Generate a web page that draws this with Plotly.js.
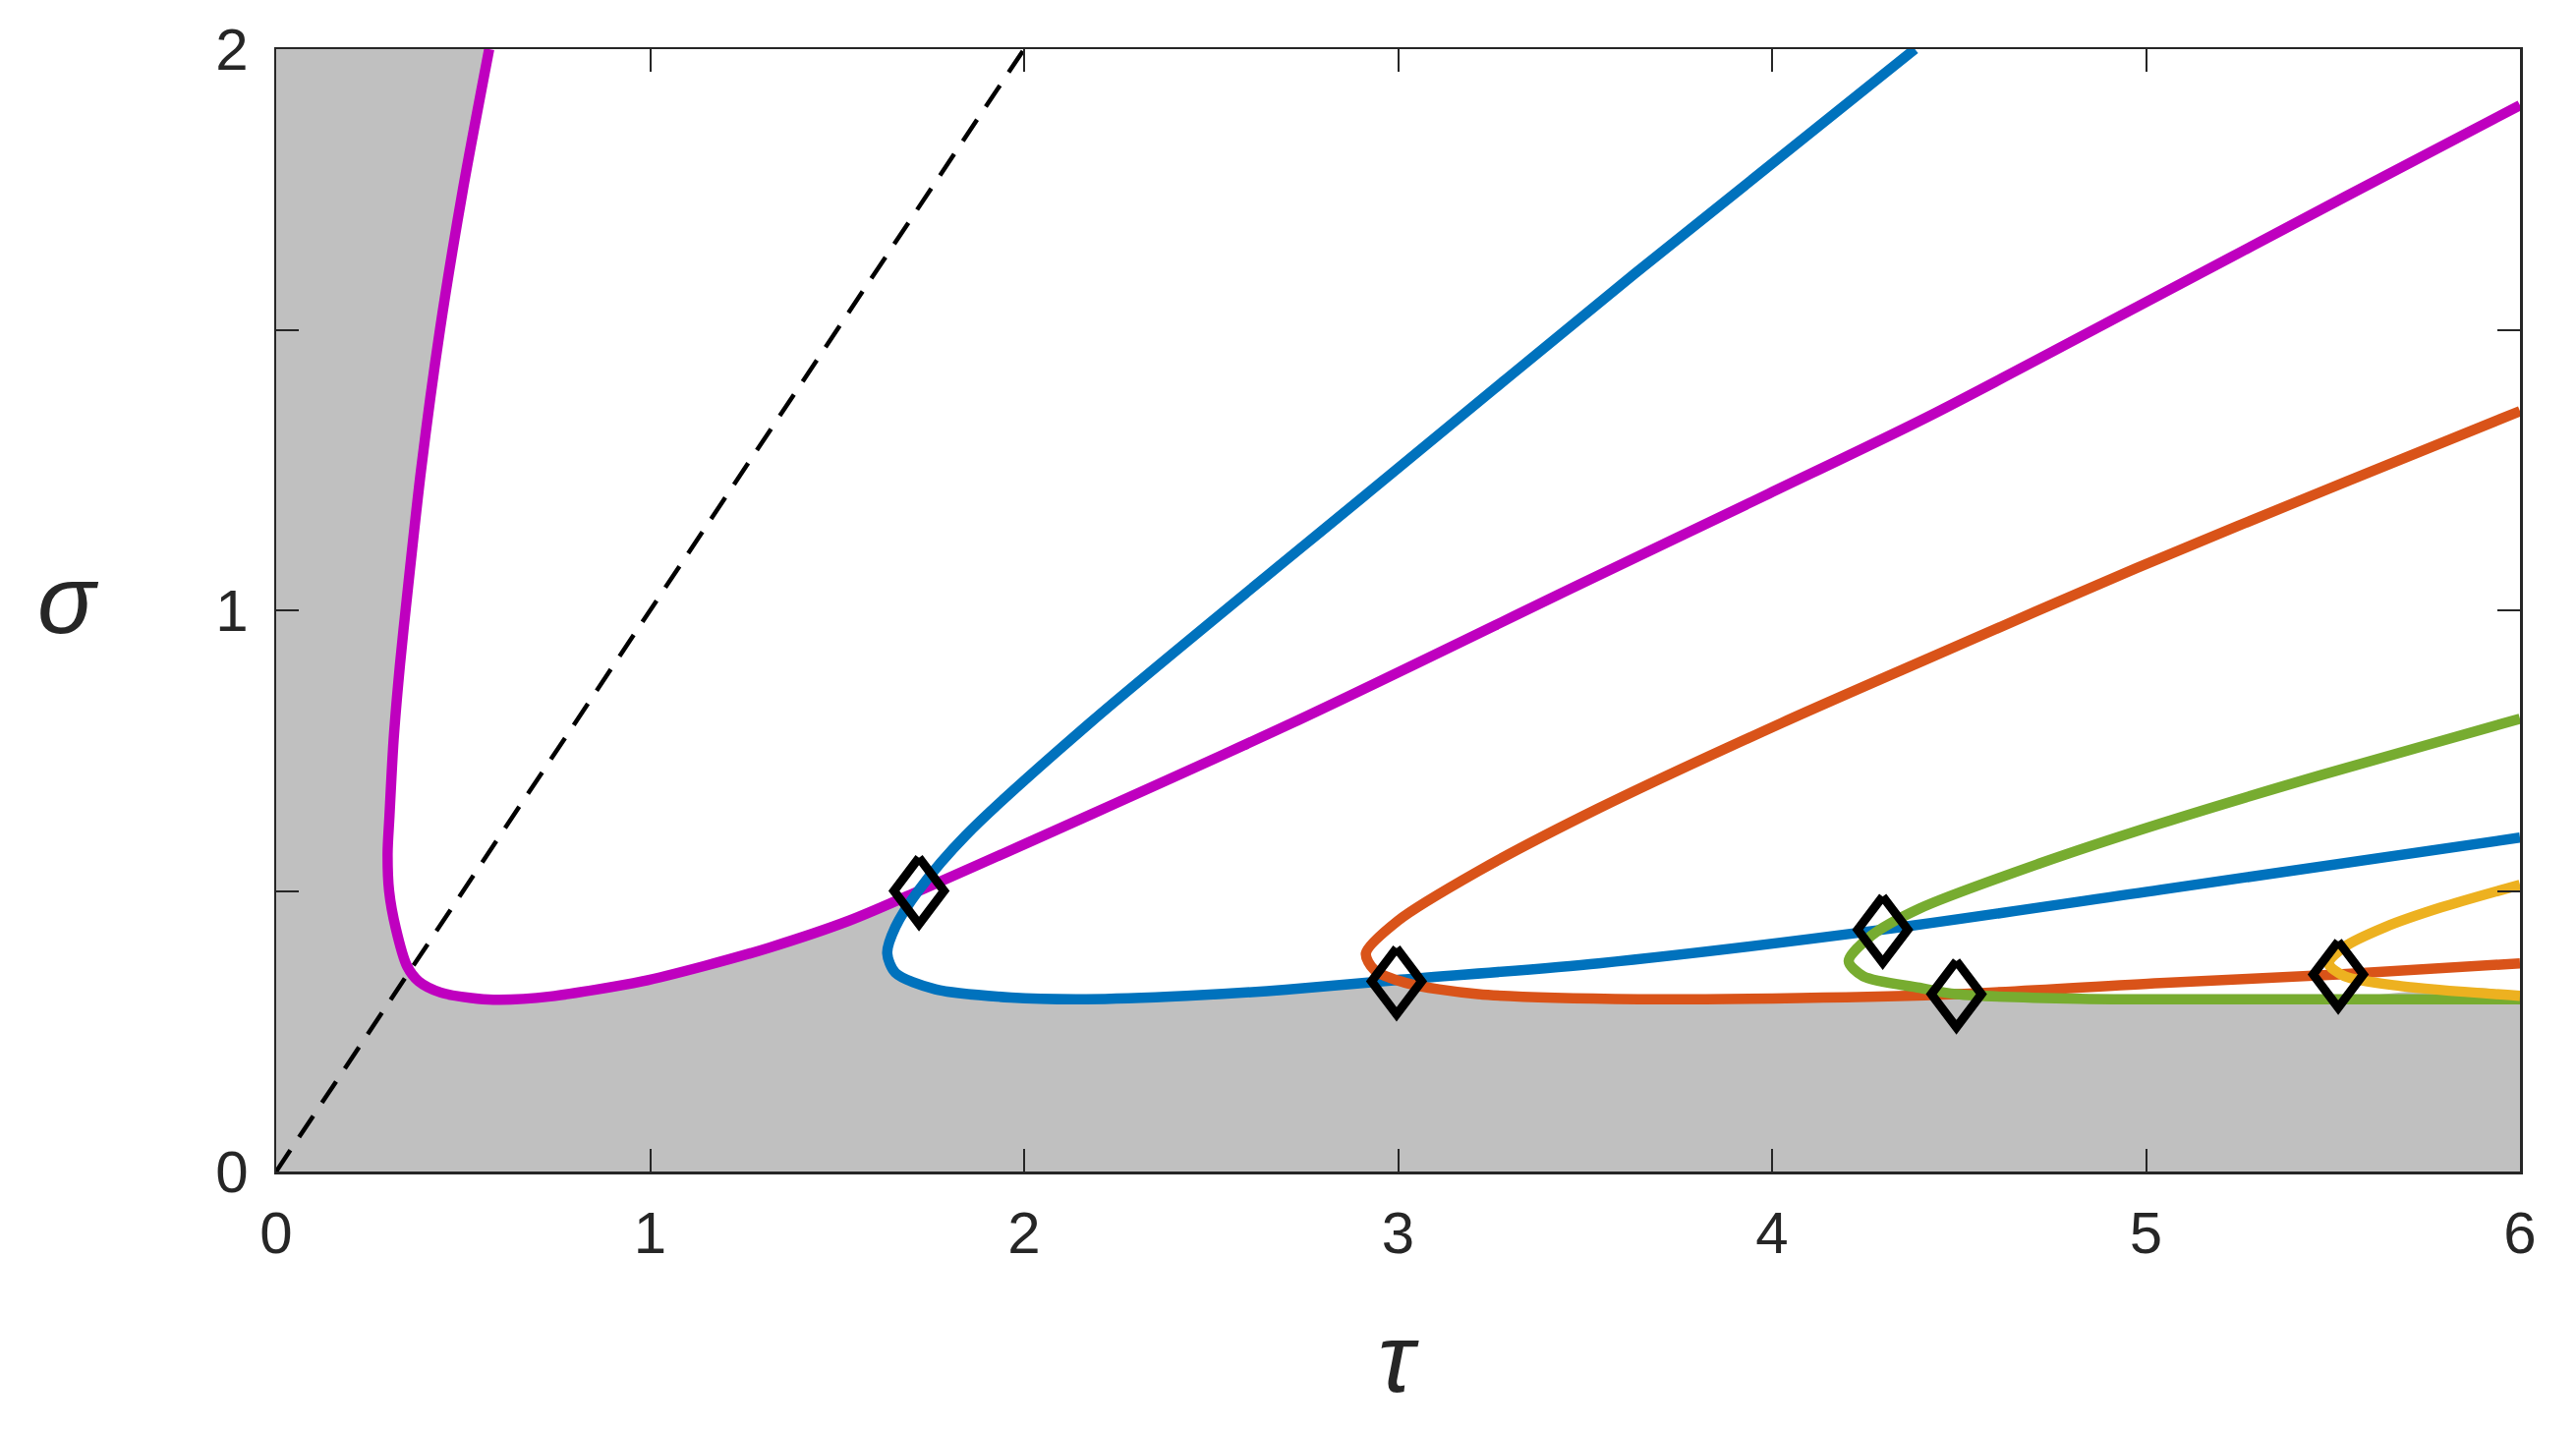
<!DOCTYPE html>
<html>
<head>
<meta charset="utf-8">
<script src="https://cdn.plot.ly/plotly-3.0.1.min.js"></script>
<style>html,body{margin:0;padding:0;background:#fff;}#chart{width:2621px;height:1454px;}</style>
</head>
<body>
<div id="chart"></div>
<script>
// ---- data (tau, sigma) ----
const magentaTau   = [0.5696, 0.4994, 0.438, 0.3872, 0.346, 0.331, 0.314, 0.303, 0.298, 0.302, 0.320, 0.350, 0.381, 0.440, 0.5225, 0.581, 0.733, 0.980, 1.144, 1.319, 1.532, 1.719, 2.713, 3.482, 3.992, 4.417, 4.974, 5.530, 6.0];
const magentaSigma = [2.0, 1.75, 1.5, 1.249, 1.0, 0.903, 0.769, 0.634, 0.567, 0.5, 0.433, 0.366, 0.339, 0.319, 0.309, 0.306, 0.312, 0.339, 0.366, 0.399, 0.447, 0.5, 0.798, 1.045, 1.208, 1.345, 1.54, 1.736, 1.900];

const blueTau   = [4.382, 3.633, 2.954, 2.177, 1.844, 1.72, 1.656, 1.634, 1.656, 1.763, 1.965, 2.166, 2.434, 2.70, 2.995, 3.536, 4.296, 5.038, 6.0];
const blueSigma = [2.0, 1.60, 1.228, 0.80, 0.599, 0.503, 0.436, 0.389, 0.354, 0.3245, 0.310, 0.307, 0.313, 0.324, 0.341, 0.371, 0.431, 0.502, 0.595];

const orangeTau   = [6.0, 5.53, 4.974, 4.417, 4.028, 3.536, 3.214, 3.0, 2.914, 2.936, 3.021, 3.214, 3.643, 4.073, 4.493, 5.038, 5.514, 6.0];
const orangeSigma = [1.355, 1.228, 1.075, 0.914, 0.80, 0.647, 0.535, 0.447, 0.389, 0.3596, 0.336, 0.316, 0.307, 0.309, 0.316, 0.336, 0.351, 0.371];

const greenTau   = [6.0, 5.466, 5.038, 4.716, 4.394, 4.265, 4.205, 4.244, 4.394, 4.493, 4.823, 5.466, 6.0];
const greenSigma = [0.807, 0.706, 0.620, 0.549, 0.4685, 0.42, 0.375, 0.348, 0.3275, 0.316, 0.308, 0.307, 0.307];

const yellowTau   = [6.0, 5.789, 5.639, 5.531, 5.488, 5.531, 5.682, 6.0];
const yellowSigma = [0.511, 0.4705, 0.4355, 0.4005, 0.371, 0.348, 0.3304, 0.313];

const dashTau   = [0, 2];
const dashSigma = [0, 2];

const diamondTau   = [1.719, 2.996, 4.296, 4.493, 5.514];
const diamondSigma = [0.500, 0.339, 0.431, 0.316, 0.351];

const xTickVals = [0, 1, 2, 3, 4, 5, 6];
const xTickText = ['0', '1', '2', '3', '4', '5', '6'];
const yTickVals = [0, 0.5, 1, 1.5, 2];
const yTickText = ['0', '', '1', '', '2'];

// ---- shaded (stable) region: bounded by the lower envelope of the curves ----
function seg(t, s, a, b) { return {t: t.slice(a, b + 1), s: s.slice(a, b + 1)}; }
const parts = [
  seg(magentaTau, magentaSigma, 0, 21),
  seg(blueTau, blueSigma, 6, 14),
  seg(orangeTau, orangeSigma, 10, 14),
  seg(greenTau, greenSigma, 10, 12)
];
let grayTau = [], graySigma = [];
parts.forEach(p => { grayTau = grayTau.concat(p.t); graySigma = graySigma.concat(p.s); });
grayTau.push(6, 0, 0); graySigma.push(0, 0, 2);

// diamond outlines around each marker point (taller than wide, as in the reference)
const HW = 0.067, HH = 0.059;
let dX = [], dY = [];
diamondTau.forEach((t, i) => {
  const s = diamondSigma[i];
  dX.push(t, t + HW, t, t - HW, t, null);
  dY.push(s + HH, s, s - HH, s, s + HH, null);
});

const LW = 10.5;
function curve(t, s, color) {
  return {x: t, y: s, type: 'scatter', mode: 'lines', hoverinfo: 'skip',
          line: {color: color, width: LW, shape: 'spline', smoothing: 0.8}};
}

const traces = [
  {x: grayTau, y: graySigma, type: 'scatter', mode: 'lines', fill: 'toself',
   fillcolor: '#c0c0c0', line: {width: 0, shape: 'spline', smoothing: 0.8}, hoverinfo: 'skip'},
  {x: dashTau, y: dashSigma, type: 'scatter', mode: 'lines',
   line: {color: '#000000', width: 4.5, dash: '26px,16px'}, hoverinfo: 'skip'},
  curve(magentaTau, magentaSigma, '#BF00BF'),
  curve(blueTau, blueSigma, '#0072BD'),
  curve(orangeTau, orangeSigma, '#D95319'),
  curve(greenTau, greenSigma, '#77AC30'),
  curve(yellowTau, yellowSigma, '#EDB120'),
  {x: dX, y: dY, type: 'scatter', mode: 'lines', connectgaps: false,
   line: {color: '#000000', width: 9}, hoverinfo: 'skip'}
];

const tickFont = {family: '"Liberation Sans", Arial, Helvetica, sans-serif', size: 60, color: '#262626'};
const titleFont = {family: '"Liberation Sans", Arial, Helvetica, sans-serif', size: 98, color: '#262626'};

const axisCommon = {
  showgrid: false, zeroline: false, showline: true, linecolor: '#262626', linewidth: 2.5,
  mirror: 'ticks', ticks: 'inside', ticklen: 23, tickwidth: 2, tickcolor: '#262626',
  tickfont: tickFont, tickmode: 'array', fixedrange: true
};

const layout = {
  width: 2621, height: 1454,
  margin: {l: 281, r: 57, t: 50, b: 262, pad: 0},
  paper_bgcolor: '#ffffff', plot_bgcolor: '#ffffff',
  showlegend: false,
  xaxis: Object.assign({}, axisCommon, {range: [0, 6], tickvals: xTickVals, ticktext: xTickText, ticklabelstandoff: 8}),
  yaxis: Object.assign({}, axisCommon, {range: [0, 2], tickvals: yTickVals, ticktext: yTickText, ticklabelstandoff: 14}),
  annotations: [
    {text: '<i>σ</i>', xref: 'paper', yref: 'paper', x: (69 - 281) / 2283, y: (1192 - 610) / 1142,
     xanchor: 'center', yanchor: 'middle', showarrow: false, font: titleFont},
    {text: '<i>τ</i>', xref: 'paper', yref: 'paper', x: 0.5, y: (1192 - 1382) / 1142,
     xanchor: 'center', yanchor: 'middle', showarrow: false, font: titleFont}
  ]
};

Plotly.newPlot('chart', traces, layout, {staticPlot: true, displayModeBar: false});
</script>
</body>
</html>
